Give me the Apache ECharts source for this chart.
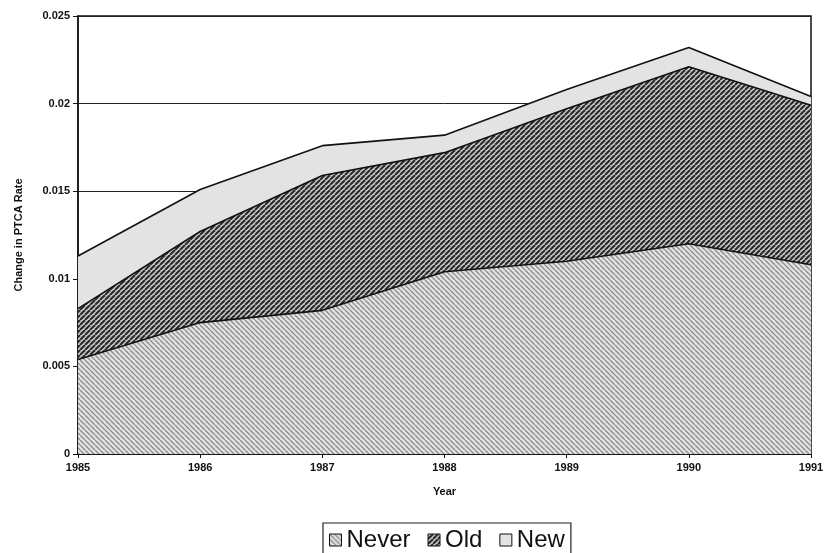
<!DOCTYPE html>
<html>
<head>
<meta charset="utf-8">
<script src="https://cdn.jsdelivr.net/npm/echarts@6/dist/echarts.min.js"></script>
<style>
  html, body { margin: 0; padding: 0; background: #fff; }
  #chart { width: 828px; height: 553px; }
</style>
</head>
<body>
<div id="chart"></div>
<script>
// values (stacked: Never at the bottom, then Old, then New)
var years = ['1985', '1986', '1987', '1988', '1989', '1990', '1991'];
var neverVals = [0.0054, 0.0075, 0.0082, 0.0104, 0.0110, 0.0120, 0.0108];
var oldVals   = [0.0029, 0.0052, 0.0077, 0.0068, 0.0087, 0.0101, 0.0091];
var newVals   = [0.0030, 0.0024, 0.0017, 0.0010, 0.0011, 0.0011, 0.0005];

var FONT = '"Liberation Sans", Arial, sans-serif';

// diagonal hatch tile
function hatch(size, bg, fg, lw, dir) {
  var c = document.createElement('canvas');
  c.width = size; c.height = size;
  var ctx = c.getContext('2d');
  ctx.fillStyle = bg;
  ctx.fillRect(0, 0, size, size);
  ctx.strokeStyle = fg;
  ctx.lineWidth = lw;
  for (var k = -1; k <= 1; k++) {
    ctx.beginPath();
    if (dir === '\\') {
      ctx.moveTo(k * size, 0);
      ctx.lineTo(k * size + size, size);
    } else {
      ctx.moveTo(k * size, size);
      ctx.lineTo(k * size + size, 0);
    }
    ctx.stroke();
  }
  return { image: c, repeat: 'repeat' };
}

var neverFill = hatch(5, '#e4e4e4', '#8e8e8e', 1.4, '\\');
var oldFill = hatch(5, '#cccccc', '#2a2a2a', 2.1, '/');
var newFill = '#e3e3e3';

var chart = echarts.init(document.getElementById('chart'));

function areaSeries(name, data, fill) {
  return {
    name: name,
    type: 'line',
    stack: 'total',
    data: data,
    symbol: 'none',
    smooth: false,
    lineStyle: { color: '#111', width: 1.6 },
    itemStyle: { color: fill },
    areaStyle: { color: fill, opacity: 1 },
    z: 2
  };
}

var option = {
  backgroundColor: '#fff',
  animation: false,
  grid: {
    left: 78,
    right: 17,
    top: 16,
    bottom: 99,
    show: true,
    borderColor: '#111',
    borderWidth: 1.5
  },
  legend: {
    left: 323,
    top: 523,
    padding: [5, 6, 6, 6],
    borderColor: '#222',
    borderWidth: 1.2,
    itemWidth: 12,
    itemHeight: 12,
    itemGap: 17,
    textStyle: { fontFamily: FONT, fontSize: 24, color: '#111' },
    data: [
      { name: 'Never', icon: 'rect', itemStyle: { color: neverFill, borderColor: '#111', borderWidth: 1 } },
      { name: 'Old', icon: 'rect', itemStyle: { color: oldFill, borderColor: '#111', borderWidth: 1 } },
      { name: 'New', icon: 'rect', itemStyle: { color: newFill, borderColor: '#111', borderWidth: 1 } }
    ]
  },
  xAxis: {
    type: 'category',
    data: years,
    boundaryGap: false,
    name: 'Year',
    nameLocation: 'middle',
    nameGap: 32,
    nameTextStyle: { fontFamily: FONT, fontSize: 11, fontWeight: 'bold', color: '#111' },
    axisLine: { lineStyle: { color: '#111', width: 1.5 } },
    axisTick: { alignWithLabel: true, length: 4, lineStyle: { color: '#111' } },
    axisLabel: { margin: 8, fontFamily: FONT, fontSize: 11, fontWeight: 'bold', color: '#111' },
    splitLine: { show: false }
  },
  yAxis: {
    type: 'value',
    min: 0,
    max: 0.025,
    interval: 0.005,
    name: 'Change in PTCA Rate',
    nameLocation: 'middle',
    nameGap: 54,
    nameTextStyle: { fontFamily: FONT, fontSize: 11, fontWeight: 'bold', color: '#111' },
    axisLine: { show: true, lineStyle: { color: '#111', width: 1.5 } },
    axisTick: { show: true, length: 5, lineStyle: { color: '#111' } },
    axisLabel: { margin: 8, fontFamily: FONT, fontSize: 11, fontWeight: 'bold', color: '#111' },
    splitLine: { show: true, lineStyle: { color: '#222', width: 1 } }
  },
  series: [
    areaSeries('Never', neverVals, neverFill),
    areaSeries('Old', oldVals, oldFill),
    areaSeries('New', newVals, newFill)
  ]
};

chart.setOption(option);
window.onresize = chart.resize;
</script>
</body>
</html>
